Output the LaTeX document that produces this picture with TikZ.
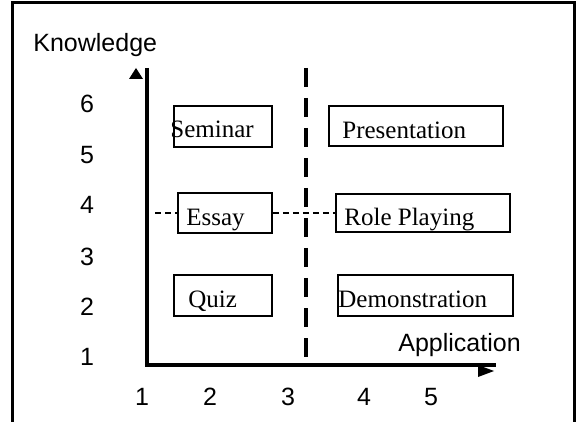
\documentclass[tikz,border=0pt]{standalone}
\usepackage{fontspec}
\setmainfont{Liberation Serif}
\setsansfont{Liberation Sans}
\usetikzlibrary{calc}

\begin{document}
\begin{tikzpicture}[x=0.5pt, y=-0.5pt,
    axisline/.style={line width=1.75pt},
    actbox/.style={draw, fill=white, line width=0.75pt, inner sep=0pt},
    acttext/.style={anchor=base west, inner sep=0pt, font=\fontsize{12.5}{15}\selectfont},
    ticklbl/.style={inner sep=0pt, font=\sffamily\fontsize{12.5}{15}\selectfont},
    splitline/.style={line width=1.75pt, dash pattern=on 9.5pt off 5.5pt},
    guideline/.style={line width=0.75pt, dash pattern=on 3pt off 2pt}]

    \useasboundingbox (0,0) rectangle (578,422);

    % Frame
    \draw[line width=1.5pt] (12,422) -- (12,3) -- (574,3) -- (574,422);

    % Axes
    \coordinate (origin) at (147,365);
    \coordinate (ytop) at (147,68);
    \coordinate (xend) at (496,365);
    \draw[axisline] (ytop) -- (origin) -- (xend);
    \fill (129,79) -- (136,68) -- (143,79) -- cycle;
    \fill (478,365) -- (494,371) -- (478,377) -- cycle;

    \node[ticklbl, anchor=base west] (knowlbl) at (33,52) {Knowledge};
    \node[ticklbl, anchor=base west] (applbl) at (398,351) {Application};

    % Knowledge levels
    \node[ticklbl] (ky6) at (87,104) {6};
    \node[ticklbl] (ky5) at (87,155) {5};
    \node[ticklbl] (ky4) at (87,205) {4};
    \node[ticklbl] (ky3) at (87,257) {3};
    \node[ticklbl] (ky2) at (87,307) {2};
    \node[ticklbl] (ky1) at (87,357) {1};

    % Application levels
    \node[ticklbl] (ax1) at (142,397) {1};
    \node[ticklbl] (ax2) at (210,397) {2};
    \node[ticklbl] (ax3) at (288,397) {3};
    \node[ticklbl] (ax4) at (364,397) {4};
    \node[ticklbl] (ax5) at (431,397) {5};

    % Split line
    \coordinate (splittop) at (306,68);
    \coordinate (splitbot) at (306,365);
    \draw[splitline] (splittop) -- (splitbot);

    % Boxes
    \node[actbox, minimum width=49pt, minimum height=20.5pt] (seminarBox) at (223,126.5) {};
    \node[actbox, minimum width=87pt, minimum height=20pt] (presBox) at (416,126) {};
    \node[actbox, minimum width=47pt, minimum height=20pt] (essayBox) at (225,213) {};
    \node[actbox, minimum width=87pt, minimum height=19pt] (roleBox) at (423,213) {};
    \node[actbox, minimum width=49pt, minimum height=20.5pt] (quizBox) at (223,295.5) {};
    \node[actbox, minimum width=87.5pt, minimum height=20.5pt] (demoBox) at (425.5,295.5) {};

    \node[acttext] (seminarTxt) at (170,138) {Seminar};
    \node[acttext] (presTxt) at (342,139) {Presentation};
    \node[acttext] (essayTxt) at (186,226) {Essay};
    \node[acttext] (roleTxt) at (344,226) {Role Playing};
    \node[acttext] (quizTxt) at (188,307) {Quiz};
    \node[acttext] (demoTxt) at (338,307) {Demonstration};

    % Guide at level 4
    \coordinate (guidestart) at (155,213);
    \draw[guideline] (guidestart) -- (essayBox.west);
    \draw[guideline] (essayBox.east) -- (roleBox.west);

\end{tikzpicture}
\end{document}
